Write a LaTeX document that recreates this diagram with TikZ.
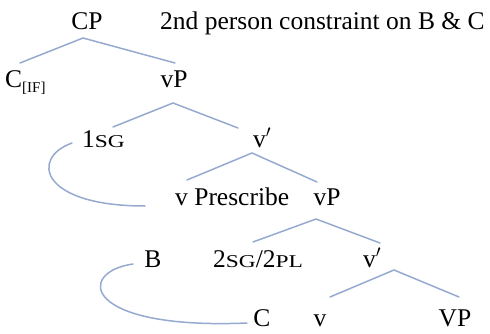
\documentclass[tikz,border=0pt]{standalone}
\usepackage{fontspec}
\usepackage{graphicx}
\setmainfont{Liberation Serif}
\newcommand{\smc}[1]{\scalebox{1.3}[1]{\fontsize{18}{18}\selectfont #1}}
\begin{document}
\begin{tikzpicture}[x=1pt,y=-1pt]
		\tikzset{cat/.style = {anchor=base, inner sep=0pt, font=\fontsize{25.5}{30}\selectfont},
			branch/.style = {draw={rgb,255:red,150;green,170;blue,208}, line width=1.5pt, line cap=round}}
		\useasboundingbox (0,0) rectangle (490,334);

		\node[cat] (CP_1) at (87,30) {CP};
		\node[cat, anchor=base west] (title) at (160,30) {2nd person constraint on B \& C};
		\node[cat, anchor=base west] (C_1) at (5,88) {C\raisebox{-5pt}{\fontsize{15}{15}\selectfont[IF]}};
		\node[cat] (vP_1) at (174,88) {vP};

		\node[cat, anchor=base west] (A_1) at (82,148) {1\smc{SG}};
		\node[cat] (v_1) at (262,147) {v$'$};

		\node[cat, anchor=base west] (V_1) at (175,205) {v Prescribe};
		\node[cat] (vP_2) at (327,205) {vP};

		\node[cat] (B_1) at (153,267) {B};
		\node[cat, anchor=base west] (A_2) at (213,267) {2\smc{SG}/2\smc{PL}};
		\node[cat] (v_2) at (372,267) {v$'$};

		\node[cat] (C_2) at (262,326) {C};
		\node[cat] (v_3) at (320,326) {v};
		\node[cat] (VP_1) at (455,326) {VP};

		\coordinate (T_1) at (83,38);  \coordinate (L_1) at (20,63);  \coordinate (R_1) at (175,63);
		\coordinate (T_2) at (173,103); \coordinate (L_2) at (113,127); \coordinate (R_2) at (238,128);
		\coordinate (T_3) at (252,153); \coordinate (L_3) at (187,180); \coordinate (R_3) at (317,182);
		\coordinate (T_4) at (316,219); \coordinate (L_4) at (253,242); \coordinate (R_4) at (380,243);
		\coordinate (T_5) at (394,270); \coordinate (L_5) at (330,297); \coordinate (R_5) at (459,297);

		\coordinate (M_1) at (72,143);  \coordinate (N_1) at (145,206);
		\coordinate (M_2) at (133,264); \coordinate (N_2) at (247,323);



		\draw[branch] (L_1)--(T_1)--(R_1);
		\draw[branch] (L_2)--(T_2)--(R_2);
		\draw[branch] (L_3)--(T_3)--(R_3);
		\draw[branch] (L_4)--(T_4)--(R_4);
		\draw[branch] (L_5)--(T_5)--(R_5);

		\draw[branch] (M_1) .. controls (30,158) and (40,206) .. (N_1);
		\draw[branch] (M_2) .. controls (76,272) and (82,330) .. (N_2);


	\end{tikzpicture}
\end{document}
